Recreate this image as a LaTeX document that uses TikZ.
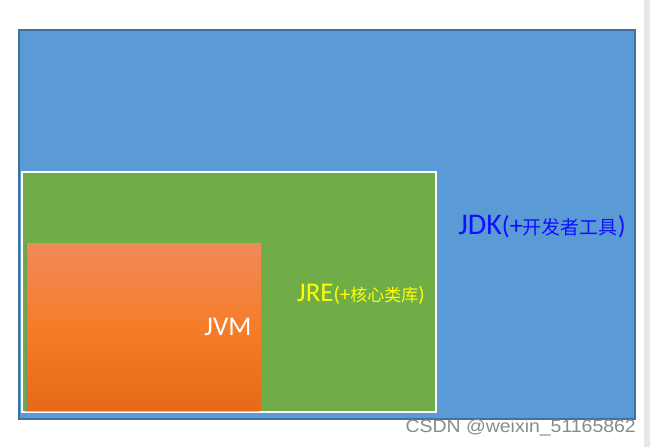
\documentclass[tikz,border=0pt]{standalone}
\usepackage{fontspec}
\setmainfont{Carlito}
\newfontfamily\cjk{Noto Sans CJK SC}
\newfontfamily\wmfont{Liberation Sans}
\usetikzlibrary{shadows}

\definecolor{jdkfill}{HTML}{5B9BD5}
\definecolor{jdkedge}{HTML}{41719C}
\definecolor{jrefill}{HTML}{70AD47}
\definecolor{jvmtop}{HTML}{F08A5A}
\definecolor{jvmmid}{HTML}{F57D28}
\definecolor{jvmbot}{HTML}{E66A19}
\definecolor{jdktext}{HTML}{1010FF}
\definecolor{jretext}{HTML}{FFFF00}
\definecolor{markgray}{HTML}{8A8A8A}
\definecolor{scrollgray}{HTML}{E8E8E8}

\begin{document}
\begin{tikzpicture}[x=1pt,y=-1pt,inner sep=0pt,
	box/.style={rectangle,anchor=north west}]
	\useasboundingbox (0,0) rectangle (650,447);
	\fill[scrollgray] (644,0) rectangle (650,447);

	% the three boxes
	\node[box,fill=jdkfill,draw=jdkedge,line width=2pt,
		minimum width=616pt,minimum height=389pt] (jdk) at (18,29) {};
	\node[box,fill=jrefill,draw=white,line width=2pt,
		minimum width=414pt,minimum height=240pt] (jre) at (21,171) {};
	\node[box,top color=jvmtop,bottom color=jvmbot,middle color=jvmmid,
		drop shadow={shadow xshift=-2pt,shadow yshift=-2pt,opacity=.45},
		minimum width=234pt,minimum height=167pt] (jvm) at (27,243) {};

	% labels
	\node[text=jdktext,font=\fontsize{30}{30}\selectfont] (jdklabel) at (542,227)
		{JDK{\fontsize{26}{26}\selectfont(+}{\cjk\fontsize{19}{20}\selectfont 开发者工具}{\fontsize{26}{26}\selectfont)}};
	\node[text=jretext,font=\fontsize{27}{27}\selectfont] (jrelabel) at (361,294)
		{JRE{\fontsize{21}{22}\selectfont(+}{\cjk\fontsize{17}{18}\selectfont 核心类库}{\fontsize{21}{22}\selectfont)}};
	\node[text=white,font=\fontsize{27}{28}\selectfont] (jvmlabel) at (228,327) {JVM};

	\node[text=markgray,anchor=east,xscale=1.08,font=\wmfont\fontsize{18}{20}\selectfont] (mark) at (636,428)
		{CSDN @weixin\_51165862};
\end{tikzpicture}
\end{document}
